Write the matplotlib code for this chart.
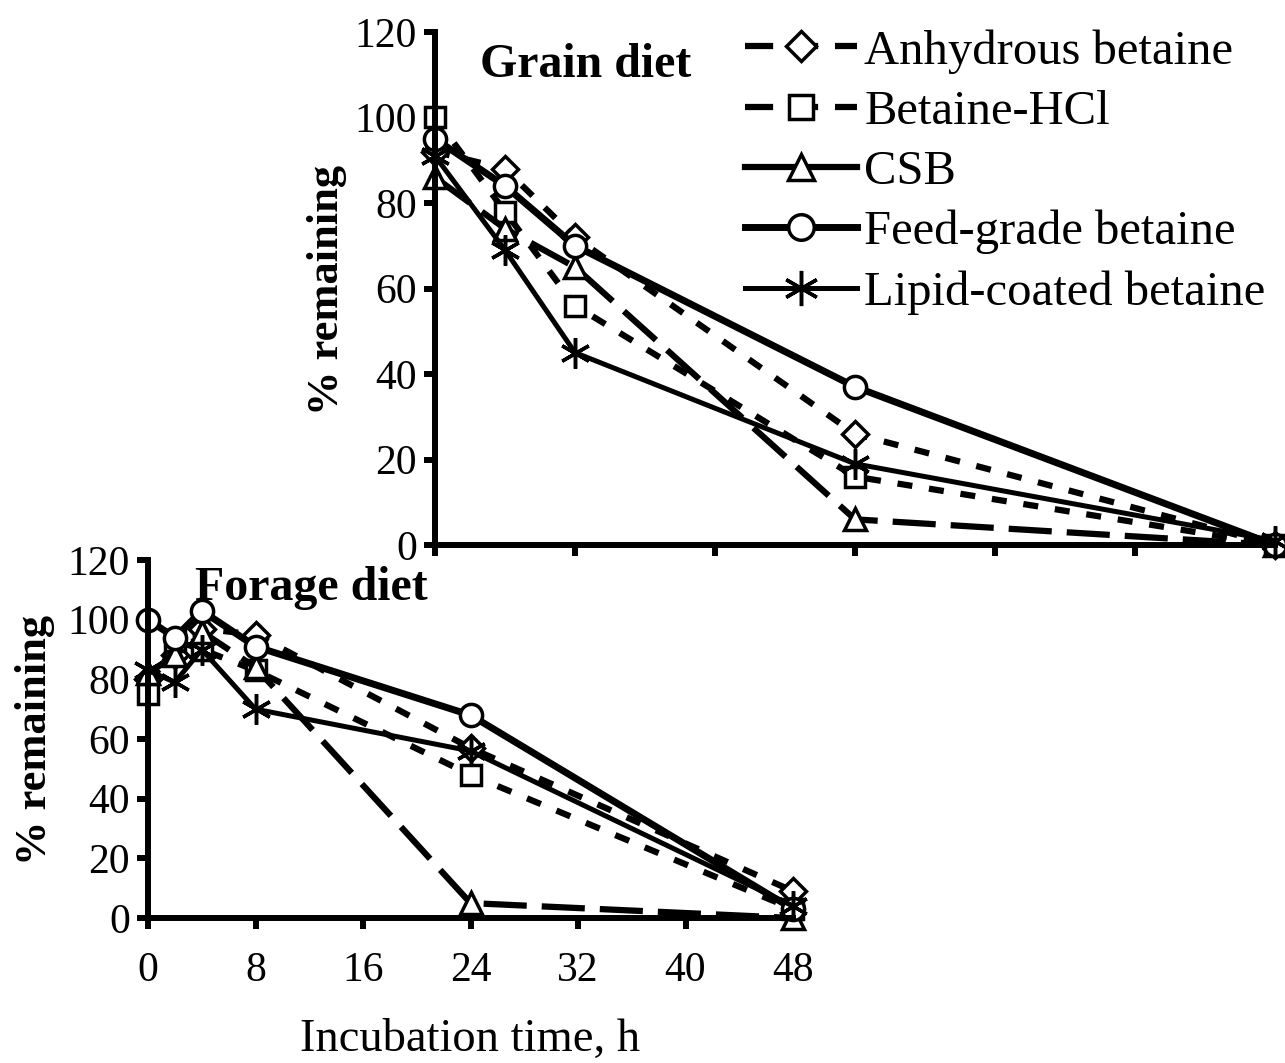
import matplotlib
matplotlib.use('Agg')
import matplotlib.pyplot as plt
from matplotlib.lines import Line2D

plt.rcParams['font.family'] = ['Liberation Serif', 'DejaVu Serif']

# data (% remaining)
t_grain = [0, 4, 8, 24, 48]
grain_anhydrous = [92, 88, 72, 26, 0]
grain_hcl = [100, 78, 56, 16, 0]
grain_csb = [86, 74, 65, 6, 0]
grain_feed = [95, 84, 70, 37, 0]
grain_lipid = [91, 69, 45, 19, 1]

t_forage = [0, 2, 4, 8, 24, 48]
forage_anhydrous = [80, 88, 97, 95, 57, 9]
forage_hcl = [75, 93, 90, 83, 48, 3]
forage_csb = [82, 88, 96, 84, 5, 0]
forage_feed = [100, 94, 103, 91, 68, 3]
forage_lipid = [83, 79, 90, 70, 56, 4]

labels = ['Anhydrous betaine', 'Betaine-HCl', 'CSB', 'Feed-grade betaine', 'Lipid-coated betaine']
xticks = [0, 8, 16, 24, 32, 40, 48]
yticks = [0, 20, 40, 60, 80, 100, 120]

# line style per series: (marker, markersize, linewidth, dashes)
styles = [
    ('D', 13, 4.5, (2.4, 2.7)),
    ('s', 15, 4.5, (2.4, 2.7)),
    ('^', 16, 4.5, (6.9, 2.4)),
    ('o', 16, 5.0, None),
    ((6, 2, 0), 22, 3.6, None),
]

fs = 30


def plot_series(ax, t, series):
    for ys, (mk, ms, lw, dash) in zip(series, styles):
        ln, = ax.plot(t, ys, color='black', lw=lw, marker=mk, ms=ms,
                      mfc='white', mec='black', mew=2.5, clip_on=False)
        if dash is not None:
            ln.set_dashes(dash)


def style_axes(ax):
    for s in ['top', 'right']:
        ax.spines[s].set_visible(False)
    for s in ['left', 'bottom']:
        ax.spines[s].set_linewidth(4.3)
    ax.set_xlim(0, 48)
    ax.set_ylim(0, 120)
    ax.set_xticks(xticks)
    ax.set_yticks(yticks)
    ax.tick_params(direction='out', width=4.3, length=8, labelsize=fs)
    ax.tick_params(axis='x', pad=16)
    ax.tick_params(axis='y', pad=5)


fig = plt.figure(figsize=(12.85, 10.63), dpi=100)

ax1 = fig.add_axes([435 / 1285, 1 - 545 / 1063, 840 / 1285, 513 / 1063])
plot_series(ax1, t_grain, [grain_anhydrous, grain_hcl, grain_csb, grain_feed, grain_lipid])
style_axes(ax1)
ax1.set_xticklabels([])
ax1.text(0.054, 0.936, 'Grain diet', transform=ax1.transAxes, fontsize=34.5,
         fontweight='bold', va='center', ha='left')
ax1.set_ylabel('% remaining', fontsize=32, fontweight='bold')
ax1.yaxis.set_label_coords(-0.105, 0.497)

ax2 = fig.add_axes([148 / 1285, 1 - 918 / 1063, 645 / 1285, 358 / 1063])
plot_series(ax2, t_forage, [forage_anhydrous, forage_hcl, forage_csb, forage_feed, forage_lipid])
style_axes(ax2)
ax2.text(0.073, 0.922, 'Forage diet', transform=ax2.transAxes, fontsize=34.5,
         fontweight='bold', va='center', ha='left')
ax2.set_ylabel('% remaining', fontsize=32, fontweight='bold')
ax2.yaxis.set_label_coords(-0.144, 0.497)

fig.text(470 / 1285, 1 - 1040 / 1063, 'Incubation time, h', fontsize=33.5,
         ha='center', va='center')

# legend handles (CSB shown solid in the original legend)
handles = []
for i, (mk, ms, lw, dash) in enumerate(styles):
    h = Line2D([], [], color='black', lw=lw, marker=mk, ms=ms * 1.15,
               mfc='white', mec='black', mew=2.5)
    if dash is not None and i != 2:
        h.set_dashes((4.5, 2.7))
    handles.append(h)

fig.legend(handles, labels, loc='upper left',
           bbox_to_anchor=(745 / 1285, 1 - 29 / 1063), frameon=False,
           fontsize=35, handlelength=2.3, handletextpad=0.15,
           labelspacing=0.33, borderpad=0, borderaxespad=0)

fig.savefig('out.png', dpi=100)
